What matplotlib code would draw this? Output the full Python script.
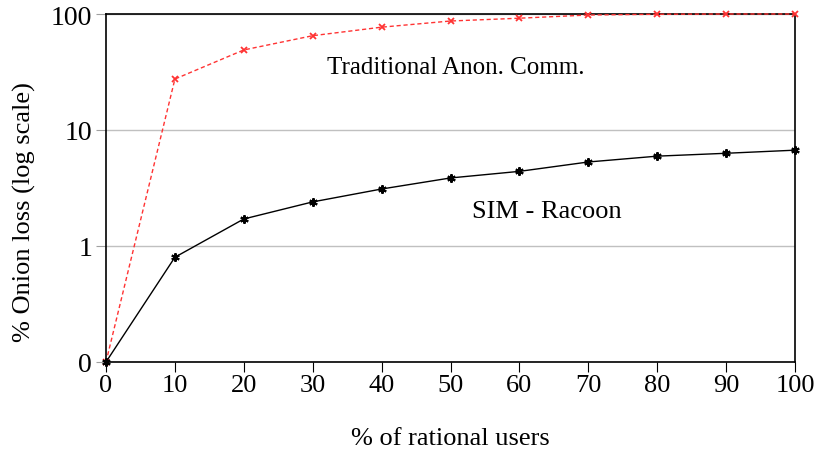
import numpy as np
import matplotlib
matplotlib.use('Agg')
import matplotlib.pyplot as plt

## data
users = [0, 10, 20, 30, 40, 50, 60, 70, 80, 90, 100]
# 0 on the log axis is drawn at 0.1
racoon = [0.1, 0.80, 1.71, 2.4, 3.1, 3.86, 4.4, 5.3, 5.95, 6.3, 6.7]
traditional = [0.1, 27.5, 49, 65, 77, 87, 92, 98, 99.5, 100, 100]
yticks = [0.1, 1, 10, 100]
ytick_labels = ['0', '1', '10', '100']

plt.rcParams['font.family'] = ['Liberation Serif', 'DejaVu Serif']

fig = plt.figure(figsize=(8.15, 4.52), dpi=100)
ax = fig.add_axes([106/815, 1 - 363/452, 689/815, 348/452])

ax.plot(users, traditional, color='#ff3333', linestyle=(0, (3, 2)), linewidth=1,
        marker='x', markersize=5, markeredgewidth=1.3, zorder=3, clip_on=False)
ax.plot(users, racoon, color='black', linewidth=1,
        marker=(6, 2, 0), markersize=6, markeredgewidth=1.5, zorder=3, clip_on=False)

ax.set_yscale('log')
ax.set_ylim(0.1, 100)
ax.set_xlim(0, 100)
ax.set_yticks(yticks)
ax.set_yticklabels(ytick_labels)
ax.minorticks_off()
ax.set_xticks(users)

ax.grid(axis='y', color='#c0c0c0', linewidth=1)
ax.set_axisbelow(True)
for s in ax.spines.values():
    s.set_color('black')
    s.set_linewidth(1.2)

ax.tick_params(axis='y', length=7, color='#a0a0a0', labelsize=20, pad=3)
ax.tick_params(axis='x', length=7, color='black', labelsize=19, pad=2)

ax.set_xlabel('% of rational users', fontsize=19, labelpad=22)
ax.set_ylabel('% Onion loss (log scale)', fontsize=19)
ax.yaxis.set_label_coords(-0.102, 0.434)

ax.text(50.8, 35, 'Traditional Anon. Comm.', fontsize=18, ha='center', va='center')
ax.text(64, 2.0, 'SIM - Racoon', fontsize=19, ha='center', va='center')

fig.savefig('out.png', dpi=100)
